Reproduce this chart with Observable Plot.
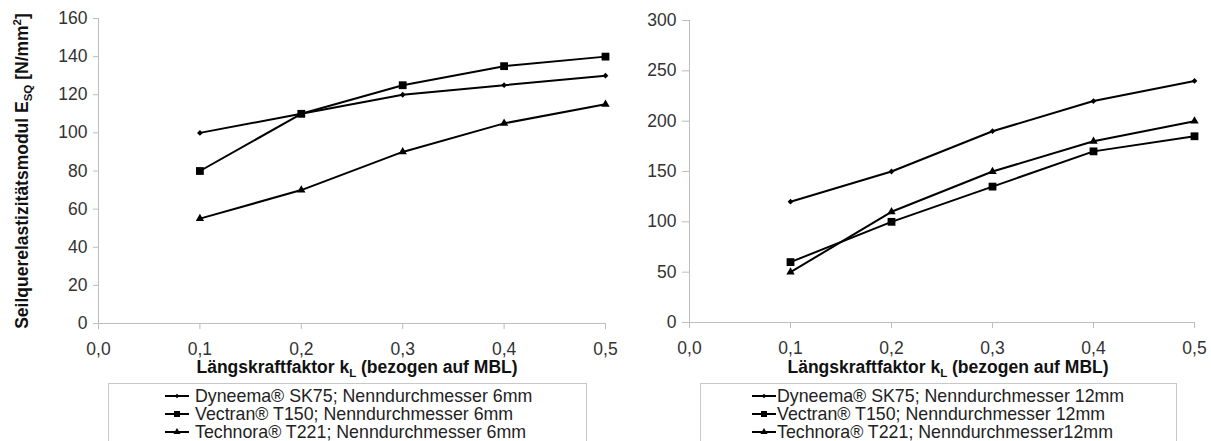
<!DOCTYPE html>
<html>
<head>
<meta charset="utf-8">
<script src="https://cdn.jsdelivr.net/npm/d3@7"></script>
<script src="https://cdn.jsdelivr.net/npm/@observablehq/plot@0.6"></script>
<style>
  html, body { margin: 0; padding: 0; background: #fff; }
  body { width: 1211px; height: 441px; overflow: hidden; position: relative; font-family: "Liberation Sans", Arial, sans-serif; }
  .panel { position: absolute; top: 0; }
  .legend { position: absolute; top: 383px; height: 80px; border: 1px solid #c8c8c8; box-sizing: border-box; background: #fff; }
  .row { position: absolute; height: 18px; line-height: 18px; font-size: 17.8px; color: #222; white-space: nowrap; }
  .row svg { position: absolute; top: 0; }
  .row span { position: absolute; top: 0; }
</style>
</head>
<body>
<div id="left" class="panel" style="left:0px"></div>
<div id="right" class="panel" style="left:615px"></div>
<div id="legL" class="legend" style="left:108px; width:479px"></div>
<div id="legR" class="legend" style="left:700px; width:477px"></div>
<script>
// ---- data ----
const kL = [0.1, 0.2, 0.3, 0.4, 0.5];
const xTicks = [0, 0.1, 0.2, 0.3, 0.4, 0.5];

const seriesNames6 = ["Dyneema® SK75; Nenndurchmesser 6mm", "Vectran® T150; Nenndurchmesser 6mm", "Technora® T221; Nenndurchmesser 6mm"];
const dyneema6 = [100, 110, 120, 125, 130];
const vectran6 = [80, 110, 125, 135, 140];
const technora6 = [55, 70, 90, 105, 115];
const yTicks6 = [0, 20, 40, 60, 80, 100, 120, 140, 160];

const seriesNames12 = ["Dyneema® SK75; Nenndurchmesser 12mm", "Vectran® T150; Nenndurchmesser 12mm", "Technora® T221; Nenndurchmesser12mm"];
const dyneema12 = [120, 150, 190, 220, 240];
const vectran12 = [60, 100, 135, 170, 185];
const technora12 = [50, 110, 150, 180, 200];
const yTicks12 = [0, 50, 100, 150, 200, 250, 300];

const symbols = ["diamond2", "square", "triangle"];
const symbolR = [2.6, 4.4, 3.1];

const fmt = d => d.toFixed(1).replace(".", ",");

function tidy(names, arrays) {
  const out = [];
  names.forEach((n, i) => arrays[i].forEach((v, j) => out.push({s: n, k: kL[j], v, i})));
  return out;
}

function panel(opts) {
  const {width, marginLeft, marginRight, marginTop, marginBottom, yTicks, names, arrays, tickSize, xTitleX} = opts;
  const data = tidy(names, arrays);
  const marks = [
    Plot.ruleX([0], {stroke: "#bdbdbd", strokeWidth: 1}),
    Plot.ruleY([0], {stroke: "#bdbdbd", strokeWidth: 1}),
    Plot.axisY({ticks: yTicks, tickSize, tickPadding: 6, stroke: "#bdbdbd", fill: "#333", label: null, fontSize: 17.5}),
    Plot.axisX({ticks: xTicks, tickSize: 6, tickPadding: 13, stroke: "#bdbdbd", fill: "#333", label: null, tickFormat: fmt, fontSize: 17.5}),
    Plot.line(data, {x: "k", y: "v", z: "s", stroke: "#000", strokeWidth: 2})
  ];
  names.forEach((n, i) => {
    marks.push(Plot.dot(data.filter(d => d.i === i), {x: "k", y: "v", symbol: () => symbols[i], r: symbolR[i], fill: "#000", stroke: "none"}));
  });
  const svg = Plot.plot({
    width, height: 380, marginLeft, marginRight, marginTop, marginBottom,
    style: {fontFamily: "'Liberation Sans', Arial, sans-serif", fontSize: "17.5px", background: "transparent", overflow: "visible"},
    x: {domain: [0, 0.5]},
    y: {domain: [0, yTicks[yTicks.length - 1]]},
    symbol: {type: "identity"},
    marks
  });
  const s = d3.select(svg);
  const xt = s.append("text").attr("x", xTitleX).attr("y", 373).attr("text-anchor", "middle")
    .attr("font-weight", "bold").attr("font-size", 17.5).attr("fill", "#111");
  xt.append("tspan").text("Längskraftfaktor k");
  xt.append("tspan").attr("dy", 4).attr("font-size", 11.5).text("L");
  xt.append("tspan").attr("dy", -4).text(" (bezogen auf MBL)");
  return svg;
}

const leftSvg = panel({width: 615, marginLeft: 98, marginRight: 10, marginTop: 18, marginBottom: 57,
  yTicks: yTicks6, names: seriesNames6, arrays: [dyneema6, vectran6, technora6], tickSize: 5, xTitleX: 357});
const ls = d3.select(leftSvg);
const yt = ls.append("text").attr("transform", "translate(28,171) rotate(-90)").attr("text-anchor", "middle")
  .attr("font-weight", "bold").attr("font-size", 17.5).attr("fill", "#111");
yt.append("tspan").text("Seilquerelastizitätsmodul E");
yt.append("tspan").attr("dy", 4).attr("font-size", 11.5).text("SQ");
yt.append("tspan").attr("dy", -4).text(" [N/mm");
yt.append("tspan").attr("dy", -7).attr("font-size", 11.5).text("2");
yt.append("tspan").attr("dy", 7).text("]");
document.getElementById("left").appendChild(leftSvg);

const rightSvg = panel({width: 596, marginLeft: 74, marginRight: 17, marginTop: 20, marginBottom: 58,
  yTicks: yTicks12, names: seriesNames12, arrays: [dyneema12, vectran12, technora12], tickSize: 7, xTitleX: 333});
document.getElementById("right").appendChild(rightSvg);

// ---- legends ----
function legend(id, names, swatchLeft, textLeft) {
  const box = document.getElementById(id);
  names.forEach((n, i) => {
    const row = document.createElement("div");
    row.className = "row";
    row.style.top = (3 + i * 18) + "px";
    row.style.left = "0px";
    const sw = d3.create("svg").attr("width", 25).attr("height", 18).style("left", swatchLeft + "px");
    sw.append("line").attr("x1", 0).attr("x2", 24).attr("y1", 9).attr("y2", 9).attr("stroke", "#000").attr("stroke-width", 2);
    const symMap = {diamond2: d3.symbolDiamond2, square: d3.symbolSquare, triangle: d3.symbolTriangle};
    const size = [14, 36, 22][i];
    sw.append("path").attr("d", d3.symbol(symMap[symbols[i]], size)()).attr("transform", "translate(12,9)").attr("fill", "#000");
    row.appendChild(sw.node());
    const t = document.createElement("span");
    t.style.left = textLeft + "px";
    t.textContent = n;
    row.appendChild(t);
    box.appendChild(row);
  });
}
legend("legL", seriesNames6, 56, 86);
legend("legR", seriesNames12, 51, 76);
</script>
</body>
</html>
